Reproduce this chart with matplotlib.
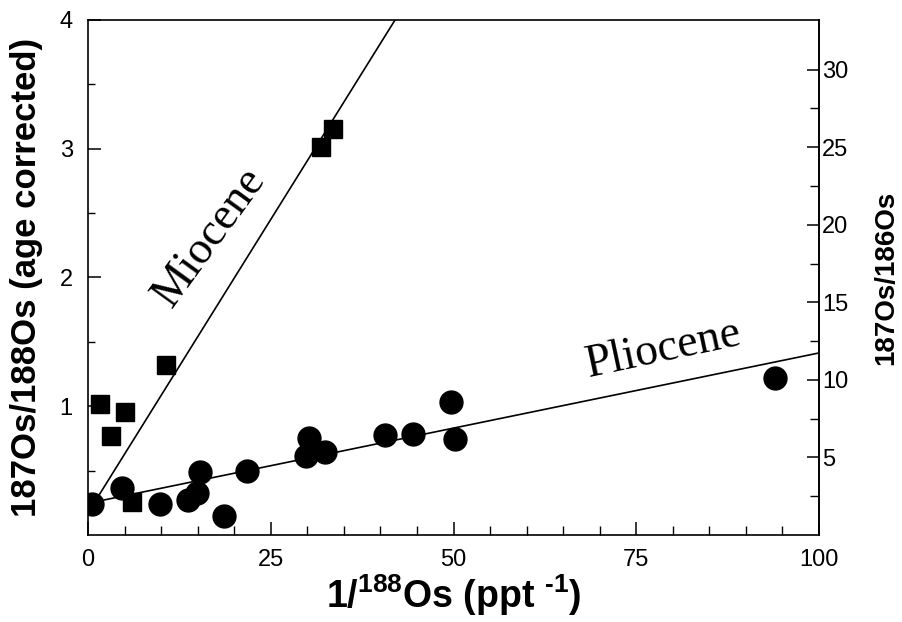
import matplotlib
matplotlib.use("Agg")
import matplotlib.pyplot as plt
from matplotlib.ticker import MultipleLocator, FixedLocator

plt.rcParams['font.family'] = ['Liberation Sans', 'DejaVu Sans']
plt.rcParams['mathtext.fontset'] = 'custom'
plt.rcParams['mathtext.rm'] = 'Liberation Sans:bold'
plt.rcParams['mathtext.bf'] = 'Liberation Sans:bold'
plt.rcParams['mathtext.it'] = 'Liberation Sans:bold'
plt.rcParams['mathtext.default'] = 'rm'

# ---- data ----
mio_x = [1.7, 3.1, 5.1, 6.0, 10.7, 31.9, 33.5]
mio_y = [1.02, 0.77, 0.955, 0.26, 1.32, 3.01, 3.15]

plio_x = [0.6, 4.7, 9.8, 13.7, 14.9, 15.3, 18.6, 21.7, 29.8, 30.2, 32.4,
          40.6, 44.5, 49.6, 50.2, 94.0]
plio_y = [0.24, 0.365, 0.24, 0.27, 0.33, 0.49, 0.15, 0.50, 0.61, 0.75, 0.645,
          0.78, 0.785, 1.03, 0.745, 1.22]

mio_line_x = [1.4, 42.0]
mio_line_y = [0.30, 4.0]
plio_line_x = [1.6, 100.0]
plio_line_y = [0.265, 1.414]

x_major = [0, 25, 50, 75, 100]
y_major = [1, 2, 3, 4]
r_major = [5, 10, 15, 20, 25, 30]
ratio_186 = 8.3  # 187Os/186Os = ratio_186 * 187Os/188Os

fig = plt.figure(figsize=(9.02, 6.22), dpi=100)
ax = fig.add_axes([88/902, 1 - 535/622, (819-88)/902, (535-20)/622])

ax.plot(mio_line_x, mio_line_y, color='black', lw=1.2, zorder=2)
ax.plot(plio_line_x, plio_line_y, color='black', lw=1.2, zorder=2)
ax.plot(mio_x, mio_y, linestyle='none', marker='s', ms=13.5, color='black', zorder=3)
ax.plot(plio_x, plio_y, linestyle='none', marker='o', ms=16.5, color='black', zorder=3)

ax.set_xlim(0, 100)
ax.set_ylim(0, 4)

ax.xaxis.set_major_locator(FixedLocator(x_major))
ax.xaxis.set_minor_locator(MultipleLocator(5))
ax.yaxis.set_major_locator(FixedLocator(y_major))
ax.yaxis.set_minor_locator(FixedLocator([0.5, 1.5, 2.5, 3.5]))

ax.tick_params(axis='x', which='major', direction='in', length=9.5, width=1.1,
               labelsize=17, pad=10, top=False)
ax.tick_params(axis='x', which='minor', direction='in', length=6.5, width=1.0, top=False)
ax.tick_params(axis='y', which='major', direction='in', length=9, width=1.1,
               labelsize=17, pad=11, right=False)
ax.tick_params(axis='y', which='minor', direction='in', length=5, width=1.0, right=False)

for s in ax.spines.values():
    s.set_linewidth(1.2)

ax.set_xlabel('1/$^{188}$Os (ppt $^{\\text{-}1}$)', fontsize=27, fontweight='bold', labelpad=1)
ax.set_ylabel('187Os/188Os (age corrected)', fontsize=25, fontweight='bold', labelpad=12)

sec = ax.secondary_yaxis('right', functions=(lambda v: v * ratio_186, lambda v: v / ratio_186))
sec.yaxis.set_major_locator(FixedLocator(r_major))
sec.yaxis.set_minor_locator(FixedLocator([2.5, 7.5, 12.5, 17.5, 22.5, 27.5]))
sec.tick_params(axis='y', which='major', direction='in', length=9, width=1.1,
                labelsize=17, pad=2)
sec.tick_params(axis='y', which='minor', direction='in', length=6.5, width=1.0)
sec.spines['right'].set_linewidth(1.2)
sec.set_ylabel('187Os/186Os', fontsize=20, fontweight='bold', labelpad=18)

ax.text(16.7, 2.31, 'Miocene', family='Liberation Serif', fontsize=33,
        rotation=54, ha='center', va='center', rotation_mode='anchor')
ax.text(78.8, 1.437, 'Pliocene', family='Liberation Serif', fontsize=33,
        rotation=12, ha='center', va='center', rotation_mode='anchor')

fig.savefig('out.png', dpi=100)
